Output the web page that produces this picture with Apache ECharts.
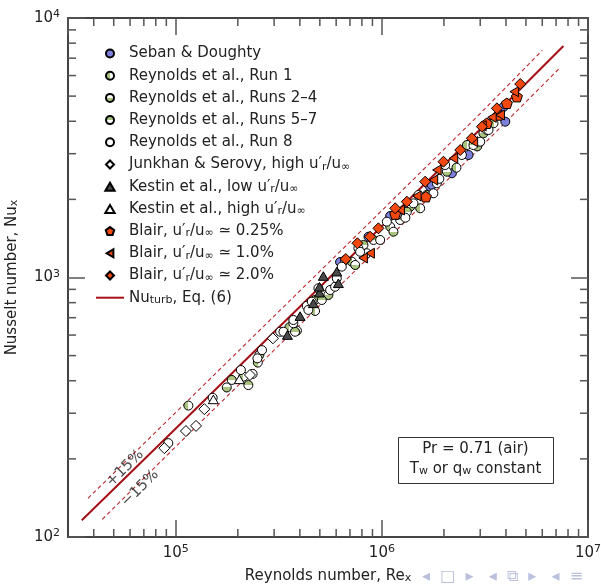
<!DOCTYPE html>
<html>
<head>
<meta charset="utf-8">
<script src="https://cdn.jsdelivr.net/npm/echarts@6/dist/echarts.min.js"></script>
<style>html,body{margin:0;padding:0;background:#fff}#c{width:601px;height:586px}</style>
</head>
<body>
<div id="c"></div>
<script>
// ---------- data (Re_x, Nu_x) ----------
const sebanDoughty = [[8.61e5,1436],[1.097e6,1726],[6.27e5,1147],[1.715e6,2238],[1.748e6,2272],[2.186e6,2521],[2.632e6,2966],[3.97e6,3985],[3.9e6,4550]];
const reynoldsRun1 = [[1.151e5,321],[2.13e5,415],[2.5e5,470],[3.56e5,643],[4.74e5,743],[7.15e5,1151],[1.097e6,1570],[1.534e6,1848],[2.3e6,2650],[2.585e6,3240],[3.48e6,3929]];
const reynoldsRuns2to4 = [[1.768e5,377],[2.545e5,503],[3.87e5,624],[5.5e5,856],[7.42e5,1117],[1.138e6,1501],[1.372e6,1874],[2.067e6,2557],[2.9e6,3200],[3.11e6,3595]];
const reynoldsRuns5to7 = [[1.869e5,403],[2.25e5,385],[4.74e5,819],[5.11e5,819],[3.79e5,618],[9.1e5,1395],[1.227e6,1666],[1.849e6,2307],[2.78e6,3240],[3.23e6,3702],[8.14e5,1334],[1.322e6,1793],[1.65e6,2080]];
const reynoldsRun8 = [[9.2e4,230],[1.51e5,344],[2.07e5,440],[2.36e5,425],[2.62e5,525],[2.49e5,488],[3.21e5,618],[3.72e5,666],[3.72e5,686],[4.32e5,777],[4.57e5,807],[4.92e5,909],[5.61e5,895],[5.93e5,921],[6.04e5,993],[6.63e5,1168],[6.39e5,1101],[7.69e5,1296],[8.45e5,1240],[9.81e5,1395],[1.057e6,1641],[1.182e6,1741],[1.3e6,1700],[1.423e6,1931],[1.505e6,2079],[1.779e6,2111],[1.9e6,2400],[2.028e6,2713],[2.444e6,2966],[3.0e6,3337],[3.29e6,3702],[4.4e5,750],[3.33e5,618],[7.84e5,1257]];
const junkhanSerovy = [[8.8e4,220],[1.12e5,256],[1.254e5,268],[1.376e5,311],[2.29e5,421],[2.96e5,583]];
const kestinLow = [[3.48e5,600],[4.01e5,710],[4.98e5,874],[5.2e5,1013],[6.04e5,1053],[6.15e5,950],[4.65e5,795],[4.98e5,921]];
const kestinHigh = [[1.522e5,339],[2.035e5,405]];
const blair025 = [[1.635e6,2048],[3.23e6,3929],[3.68e6,4229],[4.04e6,4691],[4.52e6,4975],[1.16e6,1756]];
const blair10 = [[8.77e5,1240],[1.227e6,1820],[1.478e6,2061],[1.779e6,2375],[1.849e6,2597],[2.225e6,2880],[2.78e6,3337],[3.058e6,3846],[3.42e6,4143],[3.75e6,4229],[4.385e6,5200],[8.11e5,1189]];
const blair20 = [[6.68e5,1178],[7.61e5,1355],[9.62e5,1547],[1.16e6,1848],[1.322e6,1960],[1.622e6,2340],[1.99e6,2794],[2.4e6,3099],[2.733e6,3439],[3.058e6,3812],[3.615e6,4487],[4.69e6,5568],[8.77e5,1436]];

const curveRe  = [3.5e4, 1e5, 3e5, 1e6, 3e6, 7.6e6];
const curveNu  = [116, 262, 617, 1575, 3725, 7800];
const plusRe   = [3.75e4, 1e5, 3e5, 1e6, 3e6, 6.0e6];
const plusNu   = [141, 302, 710, 1812, 4285, 7500];
const minusRe  = [4.4e4, 1e5, 3e5, 1e6, 3e6, 7.2e6];
const minusNu  = [117, 223, 525, 1340, 3165, 6350];
const bandLabels = [['+15%', 5.67e4, 184], ['\u221215%', 6.71e4, 154]];

const xMin = 3e4, xMax = 1e7, yMin = 100, yMax = 1e4;
const minorFactors = [2,3,4,5,6,7,8,9];
const decadesX = [1e4, 1e5, 1e6];
const decadesY = [1e2, 1e3];

// ---------- styling ----------
const FONT = 'DejaVu Sans';
const GREEN = '#a9c47e', WHITE = '#ffffff', BLUE = '#7d7fdc', ORANGE = '#f2470f', DARK = '#4a4a4a', RED = '#a50f15';
function half(x2, y2, first, second) {
  return { type: 'linear', x: 0, y: 0, x2: x2, y2: y2, colorStops: [
    {offset: 0, color: first}, {offset: 0.5, color: first},
    {offset: 0.5, color: second}, {offset: 1, color: second}] };
}
const PENTAGON = 'path://M0,-1 L0.951,-0.309 L0.588,0.809 L-0.588,0.809 L-0.951,-0.309 Z';
const TRI_LEFT = 'path://M0,0 L1.7,-1 L1.7,1 Z';
const DIAMOND = 'path://M0,-1 L1,0 L0,1 L-1,0 Z';
const TRI_UP = 'path://M0,-1 L1.05,0.8 L-1.05,0.8 Z';
const zip = (a, b) => a.map((v, i) => [v, b[i]]);

function minorList(decades, lo, hi) {
  const out = [];
  decades.forEach(d => minorFactors.forEach(k => { const v = k * d; if (v > lo && v < hi) out.push(v); }));
  return out;
}
const minorX = minorList(decadesX, xMin, xMax);
const minorY = minorList(decadesY, yMin, yMax);

const pairs = [
  ['Seban & Doughty', 'Seban & Doughty'],
  ['Reynolds et al., Run 1', 'Reynolds et al., Run 1'],
  ['Reynolds et al., Runs 2\u20134', 'Reynolds et al., Runs 2\u20134'],
  ['Reynolds et al., Runs 5\u20137', 'Reynolds et al., Runs 5\u20137'],
  ['Reynolds et al., Run 8', 'Reynolds et al., Run 8'],
  ['Junkhan & Serovy, high u\u2032r/u\u221e', 'Junkhan & Serovy, high u\u2032{sub|r}/u{sub|\u221e}'],
  ['Kestin et al., low u\u2032r/u\u221e', 'Kestin et al., low u\u2032{sub|r}/u{sub|\u221e}'],
  ['Kestin et al., high u\u2032r/u\u221e', 'Kestin et al., high u\u2032{sub|r}/u{sub|\u221e}'],
  ['Blair, u\u2032r/u\u221e \u2243 0.25%', 'Blair, u\u2032{sub|r}/u{sub|\u221e} \u2243 0.25%'],
  ['Blair, u\u2032r/u\u221e \u2243 1.0%', 'Blair, u\u2032{sub|r}/u{sub|\u221e} \u2243 1.0%'],
  ['Blair, u\u2032r/u\u221e \u2243 2.0%', 'Blair, u\u2032{sub|r}/u{sub|\u221e} \u2243 2.0%'],
  ['Nu_turb, Eq. (6)', 'Nu{sub|turb}, Eq. (6)']
];
const legendMap = {}; pairs.forEach(p => legendMap[p[0]] = p[1]);
const names = pairs.map(p => p[0]);

function scatter(name, data, symbol, size, color) {
  return { name: name, type: 'scatter', data: data, symbol: symbol, symbolSize: size, symbolKeepAspect: true,
    itemStyle: { color: color, borderColor: '#000', borderWidth: 1, opacity: 1 },
    emphasis: { disabled: true }, z: 5 };
}

const tickStyle = { color: '#555', width: 1.5 };
function makeTickSeries(values, isX) {
  return {
    type: 'custom', silent: true, z: 3,
    data: values.map(v => isX ? [v, yMin] : [xMin, v]),
    renderItem: function (params, api) {
      const v = api.value(isX ? 0 : 1);
      const a = isX ? api.coord([v, yMin]) : api.coord([xMin, v]);
      const b = isX ? api.coord([v, yMax]) : api.coord([xMax, v]);
      const L = 8, st = { stroke: '#555', lineWidth: 1.5 };
      return { type: 'group', children: isX ? [
        { type: 'line', shape: { x1: a[0], y1: a[1], x2: a[0], y2: a[1] - L }, style: st },
        { type: 'line', shape: { x1: b[0], y1: b[1], x2: b[0], y2: b[1] + L }, style: st }
      ] : [
        { type: 'line', shape: { x1: a[0], y1: a[1], x2: a[0] + L, y2: a[1] }, style: st },
        { type: 'line', shape: { x1: b[0], y1: b[1], x2: b[0] - L, y2: b[1] }, style: st }
      ]};
    }
  };
}

const powLabel = v => {
  const e = Math.round(Math.log10(v));
  if (Math.abs(Math.log10(v) - e) > 1e-6) return '';
  return '10{sup|' + e + '}';
};
const labelRich = { sup: { fontFamily: FONT, fontSize: 11, color: '#222', verticalAlign: 'top', lineHeight: 9 } };
const subRich = { sub: { fontFamily: FONT, fontSize: 11, color: '#222', verticalAlign: 'bottom', lineHeight: 6 } };
const axisCommon = (extra) => Object.assign({
  type: 'log', logBase: 10,
  axisLine: { show: true, onZero: false, lineStyle: { color: '#444', width: 2 } },
  axisTick: { show: true, inside: true, length: 17, lineStyle: tickStyle },
  splitLine: { show: false }, minorTick: { show: false }, minorSplitLine: { show: false }
}, extra);

const legendData = names.map(n => n === 'Nu_turb, Eq. (6)'
  ? { name: n, icon: 'path://M0,0 L28,0 L28,2 L0,2 Z', itemStyle: { color: RED, borderWidth: 0 } }
  : { name: n });

const chart = echarts.init(document.getElementById('c'), null, { renderer: 'canvas' });
const option = {
  backgroundColor: '#fff',
  animation: false,
  textStyle: { fontFamily: FONT },
  grid: { left: 68, right: 13, top: 18, bottom: 49, containLabel: false, outerBoundsMode: 'none' },
  xAxis: [
    axisCommon({ position: 'bottom', min: xMin, max: xMax,
      name: 'Reynolds number, Re{sub|x}', nameLocation: 'middle', nameGap: 31,
      nameTextStyle: { fontFamily: FONT, fontSize: 15, color: '#222', lineHeight: 16, rich: subRich },
      axisLabel: { show: true, margin: 7, showMinLabel: false, fontFamily: FONT, fontSize: 15, color: '#222', lineHeight: 18,
        formatter: powLabel, rich: labelRich } }),
    axisCommon({ position: 'top', min: xMin, max: xMax, axisLabel: { show: false } })
  ],
  yAxis: [
    axisCommon({ position: 'left', min: yMin, max: yMax,
      name: 'Nusselt number, Nu{sub|x}', nameLocation: 'middle', nameGap: 48,
      nameTextStyle: { fontFamily: FONT, fontSize: 15, color: '#222', lineHeight: 16, rich: subRich },
      axisLabel: { show: true, margin: 8, fontFamily: FONT, fontSize: 15, color: '#222', lineHeight: 18,
        formatter: powLabel, rich: labelRich } }),
    axisCommon({ position: 'right', min: yMin, max: yMax, axisLabel: { show: false } })
  ],
  legend: {
    data: legendData, orient: 'vertical', left: 96, top: 45.5, padding: 0,
    itemWidth: 28, itemHeight: 8, itemGap: 6.2, itemTextGap: 6,
    selectedMode: false, inactiveColor: '#222',
    textStyle: { fontFamily: FONT, fontSize: 15, color: '#222', lineHeight: 16, rich: subRich },
    formatter: n => legendMap[n] || n
  },
  series: [
    makeTickSeries(minorX, true),
    makeTickSeries(minorY, false),
    { name: '+15', type: 'line', data: zip(plusRe, plusNu), symbol: 'none', silent: true, z: 2,
      lineStyle: { color: '#c0282d', width: 1.1, type: [4, 3] } },
    { name: '-15', type: 'line', data: zip(minusRe, minusNu), symbol: 'none', silent: true, z: 2,
      lineStyle: { color: '#c0282d', width: 1.1, type: [4, 3] } },
    { name: 'Nu_turb, Eq. (6)', type: 'line', data: zip(curveRe, curveNu), symbol: 'none', showSymbol: false, silent: true, z: 2,
      itemStyle: { color: RED }, lineStyle: { color: RED, width: 2 } },
    { name: 'bandLabels', type: 'scatter', silent: true, z: 4, symbolSize: 1, itemStyle: { color: 'rgba(0,0,0,0)' },
      data: bandLabels.map(b => ({ value: [b[1], b[2]], label: { formatter: b[0] } })),
      label: { show: true, position: 'inside', rotate: 45, fontFamily: FONT, fontSize: 15, color: '#222' } },
    scatter(names[0], sebanDoughty, 'circle', 9, BLUE),
    scatter(names[1], reynoldsRun1, 'circle', 9, half(1, 0, GREEN, WHITE)),
    scatter(names[2], reynoldsRuns2to4, 'circle', 9, half(0, 1, WHITE, GREEN)),
    scatter(names[3], reynoldsRuns5to7, 'circle', 9, half(0, 1, GREEN, WHITE)),
    scatter(names[4], reynoldsRun8, 'circle', 9, WHITE),
    scatter(names[5], junkhanSerovy, DIAMOND, 11, WHITE),
    scatter(names[6], kestinLow, TRI_UP, 10, DARK),
    scatter(names[7], kestinHigh, TRI_UP, 10, WHITE),
    scatter(names[8], blair025, PENTAGON, 11, ORANGE),
    scatter(names[9], blair10, TRI_LEFT, 10, ORANGE),
    scatter(names[10], blair20, DIAMOND, 11, ORANGE)
  ],
  graphic: [
    { type: 'rect', left: 398, top: 437, shape: { width: 155, height: 46 }, style: { fill: '#fff', stroke: '#333', lineWidth: 1 }, z: 10 },
    { type: 'text', x: 475.5, y: 449, z: 11, style: { text: 'Pr = 0.71 (air)', fontFamily: FONT, fontSize: 15, fill: '#222', align: 'center', verticalAlign: 'middle' } },
    { type: 'text', x: 475.5, y: 469, z: 11, style: { text: 'T{sub|w} or q{sub|w} constant', fontFamily: FONT, fontSize: 15, fill: '#222', align: 'center', verticalAlign: 'middle', lineHeight: 16,
      rich: { sub: { fontFamily: FONT, fontSize: 11, fill: '#222', verticalAlign: 'bottom', lineHeight: 6 } } } },
    { type: 'text', x: 422, y: 577, z: 11, style: { text: '\u25C2  \u25A1  \u25B8   \u25C2  \u29C9  \u25B8   \u25C2  \u2261', fontFamily: FONT, fontSize: 16, fill: '#b9bfdc', verticalAlign: 'middle' } }
  ]
};
chart.setOption(option);
</script>
</body>
</html>
